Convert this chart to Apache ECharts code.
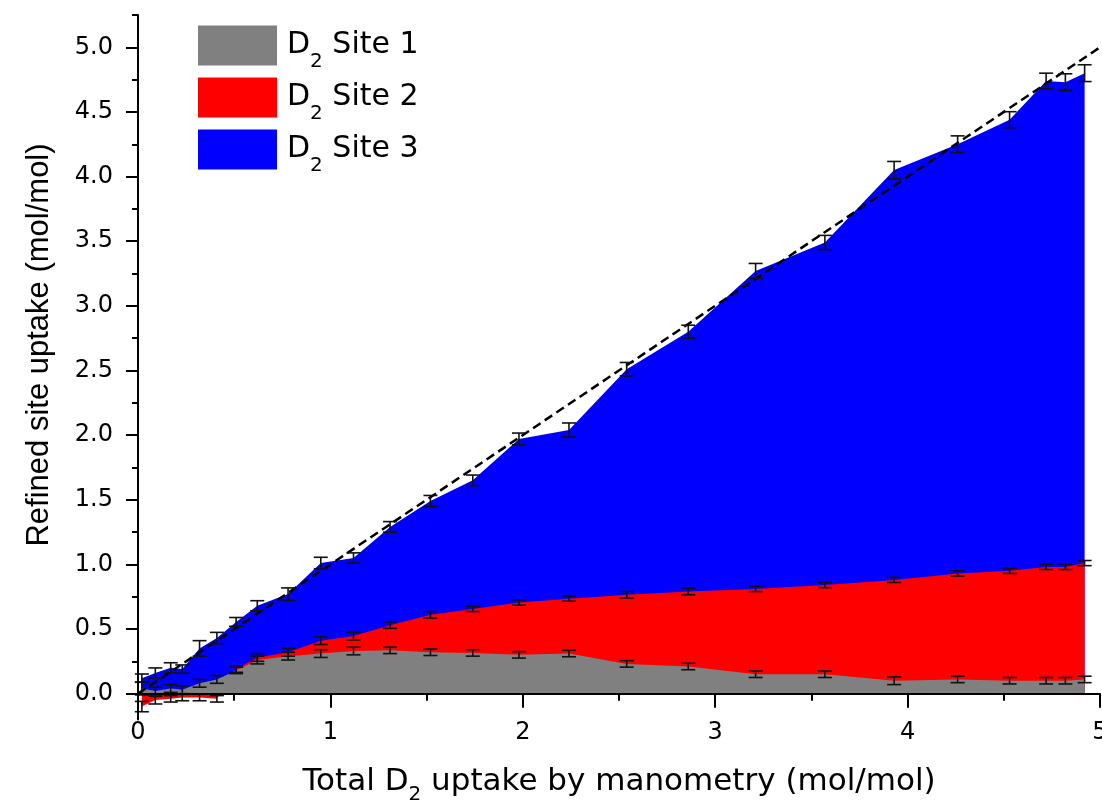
<!DOCTYPE html>
<html>
<head>
<meta charset="utf-8">
<script src="https://cdn.jsdelivr.net/npm/echarts@6/dist/echarts.min.js"></script>
<style>
html,body{margin:0;padding:0;background:#fff;}
#chart{width:1102px;height:803px;}
</style>
</head>
<body>
<div id="chart"></div>
<script>
// Total D2 uptake by manometry (mol/mol) at each refinement
const xs = [0.02, 0.09, 0.17, 0.23, 0.32, 0.41, 0.51, 0.62, 0.78, 0.95, 1.12, 1.31, 1.52, 1.74, 1.98, 2.24, 2.54, 2.86, 3.21, 3.57, 3.93, 4.26, 4.53, 4.72, 4.82, 4.92];
// Refined site occupancies (mol/mol)
const site1 = [0.04, 0.02, 0.04, 0.03, 0.08, 0.11, 0.18, 0.26, 0.29, 0.31, 0.33, 0.335, 0.32, 0.315, 0.30, 0.31, 0.23, 0.21, 0.15, 0.15, 0.10, 0.11, 0.10, 0.10, 0.10, 0.11];
const site2 = [-0.14, -0.07, -0.08, -0.06, -0.11, -0.15, 0.01, 0.02, 0.03, 0.10, 0.115, 0.195, 0.29, 0.34, 0.405, 0.425, 0.535, 0.58, 0.66, 0.69, 0.78, 0.82, 0.85, 0.88, 0.88, 0.90];
const site3 = [0.22, 0.21, 0.24, 0.22, 0.38, 0.47, 0.365, 0.40, 0.45, 0.60, 0.605, 0.76, 0.88, 0.995, 1.265, 1.305, 1.745, 2.01, 2.46, 2.65, 3.17, 3.32, 3.49, 3.76, 3.75, 3.79];
// Error bars (half widths) on the cumulative curves
const err1 = [0.05, 0.03, 0.03, 0.03, 0.03, 0.03, 0.025, 0.03, 0.03, 0.03, 0.03, 0.025, 0.025, 0.025, 0.025, 0.025, 0.025, 0.025, 0.025, 0.025, 0.03, 0.025, 0.025, 0.025, 0.025, 0.025];
const err2 = [0.04, 0.03, 0.025, 0.025, 0.025, 0.025, 0.025, 0.03, 0.03, 0.03, 0.03, 0.025, 0.025, 0.02, 0.02, 0.02, 0.025, 0.025, 0.02, 0.02, 0.02, 0.02, 0.02, 0.02, 0.02, 0.02];
const err3 = [0.032, 0.039, 0.039, 0.032, 0.06, 0.044, 0.034, 0.039, 0.048, 0.045, 0.039, 0.041, 0.043, 0.041, 0.046, 0.054, 0.052, 0.05, 0.058, 0.055, 0.067, 0.065, 0.062, 0.06, 0.065, 0.065];
// Reference line y = x
const refLine = [[0, 0], [5, 5]];
// Tick values
const yLabelValues = [0, 0.5, 1.0, 1.5, 2.0, 2.5, 3.0, 3.5, 4.0, 4.5, 5.0];
const yMinorValues = [0.25, 0.75, 1.25, 1.75, 2.25, 2.75, 3.25, 3.75, 4.25, 4.75, 5.25];
const seriesNames = ['Site 1', 'Site 2', 'Site 3'];

const top1 = site1.slice();
const top2 = site1.map((v, i) => +(v + site2[i]).toFixed(4));
const top3 = top2.map((v, i) => +(v + site3[i]).toFixed(4));

const HF = 'DejaVu Sans';

function areaSeries(name, tops, color, z) {
  return {
    name: name, type: 'line', z: z, silent: true,
    data: xs.map((x, i) => [x, tops[i]]),
    symbol: 'none', showSymbol: false,
    lineStyle: {width: 0, color: color},
    itemStyle: {color: color},
    areaStyle: {color: color, opacity: 1}
  };
}
function errSeries(tops, errs) {
  return {
    type: 'custom', z: 8, silent: true,
    data: xs.map((x, i) => [x, tops[i], errs[i]]),
    encode: {x: 0, y: 1},
    renderItem: function (params, api) {
      const x = api.value(0), y = api.value(1), e = api.value(2);
      const a = api.coord([x, y + e]), b = api.coord([x, y - e]);
      const cw = 7;
      const st = {stroke: '#111', lineWidth: 1.6};
      return {type: 'group', children: [
        {type: 'line', shape: {x1: a[0], y1: a[1], x2: b[0], y2: b[1]}, style: st},
        {type: 'line', shape: {x1: a[0] - cw, y1: a[1], x2: a[0] + cw, y2: a[1]}, style: st},
        {type: 'line', shape: {x1: b[0] - cw, y1: b[1], x2: b[0] + cw, y2: b[1]}, style: st}
      ]};
    }
  };
}

const chart = echarts.init(document.getElementById('chart'), null, {renderer: 'canvas'});
chart.setOption({
  animation: false,
  backgroundColor: '#fff',
  grid: {left: 138, right: 2, top: 15, bottom: 83.5, containLabel: false, outerBoundsMode: 'none'},
  legend: {
    orient: 'vertical', left: 193, top: 20.5, padding: 5,
    itemWidth: 79, itemHeight: 40, itemGap: 5.5,
    icon: 'rect', selectedMode: false,
    data: seriesNames,
    formatter: function (n) { return 'D{sub|2} ' + n; },
    textStyle: {
      fontFamily: HF, fontSize: 30, color: '#000', padding: [0, 0, 0, 5],
      rich: {sub: {fontFamily: HF, fontSize: 20, color: '#000', padding: [33, 0, 0, 0]}}
    }
  },
  xAxis: {
    type: 'value', min: 0, max: 5, interval: 1, z: 10,
    axisLine: {show: true, onZero: true, lineStyle: {color: '#000', width: 2}},
    axisTick: {show: true, inside: false, length: 14, lineStyle: {color: '#000', width: 2}},
    minorTick: {show: true, splitNumber: 2, length: 7, lineStyle: {color: '#000', width: 2}},
    splitLine: {show: false},
    axisLabel: {fontFamily: HF, fontSize: 24, color: '#000', margin: 1.5},
    name: 'Total D{sub|2} uptake by manometry (mol/mol)',
    nameLocation: 'middle', nameGap: 40,
    nameTextStyle: {
      fontFamily: HF, fontSize: 31, color: '#000',
      rich: {sub: {fontFamily: HF, fontSize: 20, color: '#000', padding: [25, 0, 0, 0]}}
    }
  },
  yAxis: [{
    type: 'value', min: -0.2, max: 5.25, z: 10,
    axisLine: {show: true, onZero: false, lineStyle: {color: '#000', width: 2}},
    axisTick: {show: true, inside: false, length: 12, customValues: yLabelValues, lineStyle: {color: '#000', width: 2}},
    splitLine: {show: false},
    axisLabel: {fontFamily: HF, fontSize: 24, color: '#000', margin: 25, customValues: yLabelValues,
      formatter: function (v) { return Number(v).toFixed(1); }}
  }, {
    type: 'value', min: -0.2, max: 5.25, z: 10, position: 'left', offset: 0,
    axisLine: {show: false},
    axisTick: {show: true, inside: false, length: 6, customValues: yMinorValues, lineStyle: {color: '#000', width: 2}},
    splitLine: {show: false},
    axisLabel: {show: false}
  }],
  graphic: [{
    type: 'text', x: 39, y: 345, rotation: Math.PI / 2, z: 20,
    style: {text: 'Refined site uptake (mol/mol)', fontFamily: 'Liberation Sans', fontSize: 31,
      fill: '#000', align: 'center', verticalAlign: 'middle'}
  }],
  series: [
    areaSeries(seriesNames[2], top3, '#0000ff', 2),
    areaSeries(seriesNames[1], top2, '#ff0000', 3),
    areaSeries(seriesNames[0], top1, '#808080', 4),
    {
      type: 'line', z: 6, silent: true, data: refLine, symbol: 'none',
      lineStyle: {color: '#000', width: 2.5, type: [9, 5]}
    },
    errSeries(top1, err1),
    errSeries(top2, err2),
    errSeries(top3, err3)
  ]
});
</script>
</body>
</html>
